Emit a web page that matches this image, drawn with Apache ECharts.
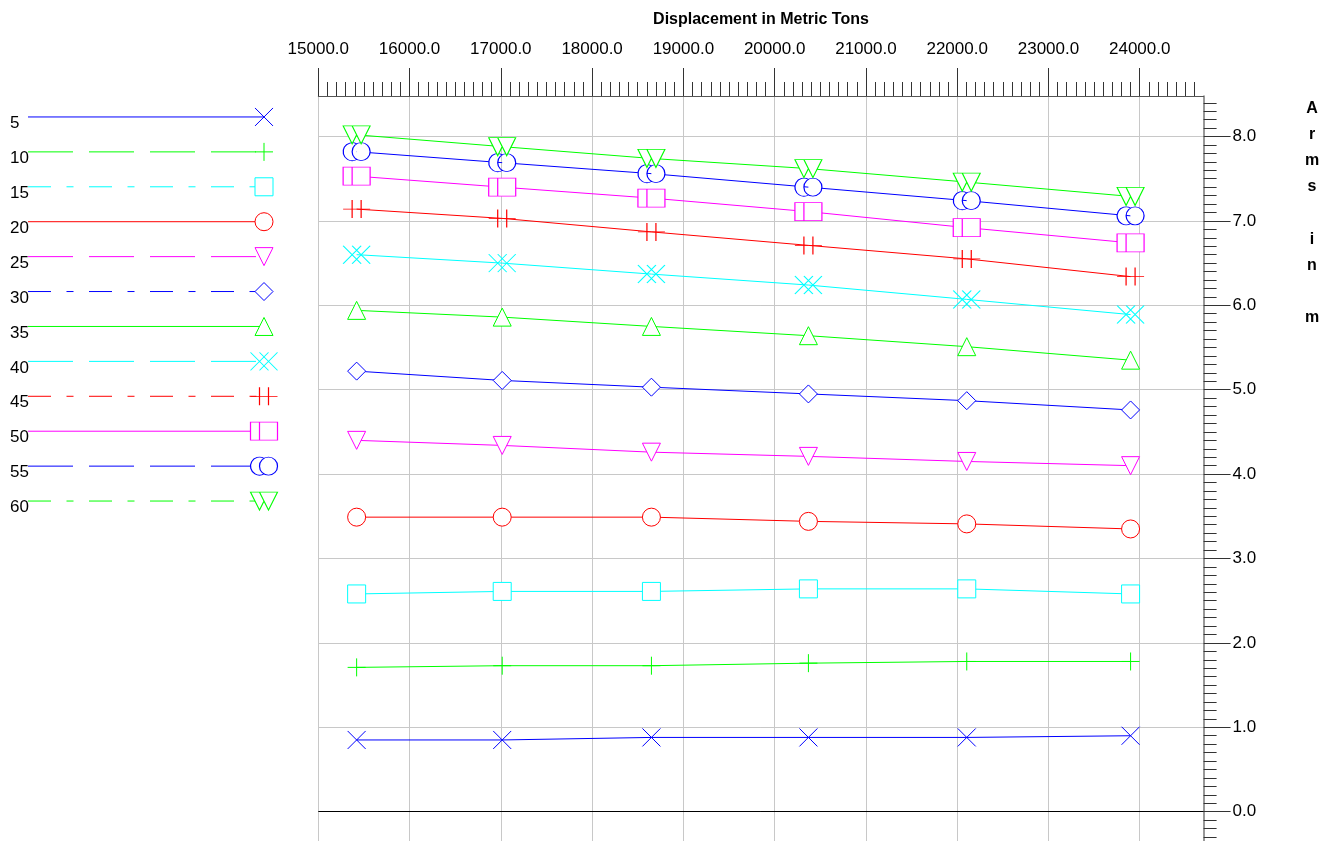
<!DOCTYPE html>
<html>
<head>
<meta charset="utf-8">
<script src="https://cdn.jsdelivr.net/npm/echarts@6/dist/echarts.min.js"></script>
<style>
html,body{margin:0;padding:0;background:#ffffff;}
#chart{width:1334px;height:841px;}
</style>
</head>
<body>
<div id="chart"></div>
<script>
// ---------------- DATA ----------------
const displacement = [15420, 17015, 18650, 20370, 22105, 23900];
const heelLabels = ['5', '10', '15', '20', '25', '30', '35', '40', '45', '50', '55', '60'];
const arms5  = [0.85, 0.85, 0.88, 0.88, 0.88, 0.90];
const arms10 = [1.71, 1.73, 1.73, 1.76, 1.78, 1.78];
const arms15 = [2.58, 2.61, 2.61, 2.64, 2.64, 2.58];
const arms20 = [3.49, 3.49, 3.49, 3.44, 3.41, 3.35];
const arms25 = [4.40, 4.34, 4.26, 4.21, 4.15, 4.10];
const arms30 = [5.22, 5.11, 5.03, 4.95, 4.87, 4.76];
const arms35 = [5.94, 5.86, 5.75, 5.64, 5.51, 5.35];
const arms40 = [6.60, 6.50, 6.37, 6.24, 6.07, 5.89];
const arms45 = [7.14, 7.03, 6.87, 6.71, 6.55, 6.34];
const arms50 = [7.53, 7.40, 7.27, 7.11, 6.92, 6.74];
const arms55 = [7.82, 7.69, 7.56, 7.40, 7.24, 7.06];
const arms60 = [8.02, 7.88, 7.74, 7.62, 7.46, 7.29];
const allArms = [arms5, arms10, arms15, arms20, arms25, arms30, arms35, arms40, arms45, arms50, arms55, arms60];
const xTickValues = [15000, 16000, 17000, 18000, 19000, 20000, 21000, 22000, 23000, 24000];
const yTickValues = [-1, 0, 1, 2, 3, 4, 5, 6, 7, 8];
const yLabelValues = [0, 1, 2, 3, 4, 5, 6, 7, 8];
const xTitle = 'Displacement in Metric Tons';
const yTitle = 'A\nr\nm\ns\n\ni\nn\n\nm';

// ---------------- STYLES ----------------
const FONT = '"Liberation Sans", Arial, sans-serif';
const colors = ['#0000ff', '#00ff00', '#00ffff', '#ff0000', '#ff00ff', '#0000ff',
                '#00ff00', '#00ffff', '#ff0000', '#ff00ff', '#0000ff', '#00ff00'];
const DASH = [45, 16];
const DASHDOT = [23, 15.5, 7, 15.5];
const legendDash = ['solid', DASH, DASHDOT, 'solid', DASH, DASHDOT,
                    'solid', DASH, DASHDOT, 'solid', DASH, DASHDOT];
const P = {
  x: 'path://M0 0 L18 18 M18 0 L0 18',
  plus: 'path://M0 9 L18 9 M9 0 L9 18',
  square: 'path://M0 0 L18 0 L18 18 L0 18 Z',
  circle: 'path://M18 9 A9 9 0 1 1 0 9 A9 9 0 1 1 18 9 Z',
  triDown: 'path://M0 0 L18 0 L9 18 Z',
  diamond: 'path://M9 0 L18 9 L9 18 L0 9 Z',
  triUp: 'path://M9 0 L18 18 L0 18 Z',
  x2: 'path://M0 0 L18 18 M18 0 L0 18 M9 0 L27 18 M27 0 L9 18',
  plus2: 'path://M0 9 L27 9 M9 0 L9 18 M18 0 L18 18',
  square2: 'path://M9 0 L0 0 L0 18 L9 18 M9 0 L27 0 L27 18 L9 18 Z',
  circle2: 'path://M13.5 1.21 A9 9 0 1 0 13.5 16.79 M27 9 A9 9 0 1 1 9 9 A9 9 0 1 1 27 9 Z',
  triDown2: 'path://M9 0 L0 0 L9 18 L13.5 9 M9 0 L27 0 L18 18 Z'
};
const symbols = [P.x, P.plus, P.square, P.circle, P.triDown, P.diamond, P.triUp,
                 P.x2, P.plus2, P.square2, P.circle2, P.triDown2];
const symbolSizes = [[18,18],[18,18],[18,18],[18,18],[18,18],[18,18],[18,18],
                     [27,18],[27,18],[27,18],[27,18],[27,18]];

// ---------------- SERIES ----------------
const series = [];
allArms.forEach((arr, i) => {
  const s = {
    name: heelLabels[i],
    type: 'line',
    xAxisIndex: 0, yAxisIndex: 0,
    data: displacement.map((d, k) => [d, arr[k]]),
    symbol: symbols[i],
    symbolSize: symbolSizes[i],
    showSymbol: true,
    showAllSymbol: true,
    lineStyle: { color: colors[i], width: 1, type: 'solid' },
    itemStyle: { color: '#ffffff', borderColor: colors[i], borderWidth: 1 },
    emphasis: { disabled: true },
    silent: true,
    z: 3
  };
  if (i === 0) {
    s.markLine = {
      silent: true, symbol: 'none', label: { show: false },
      lineStyle: { color: '#000000', width: 1, type: 'solid' },
      data: [{ yAxis: 0 }]
    };
  }
  series.push(s);
});
// legend rows drawn in their own small grid
heelLabels.forEach((lab, i) => {
  series.push({
    name: 'legend-' + lab,
    type: 'line',
    xAxisIndex: 1, yAxisIndex: 1,
    data: [{ value: [0, i], symbol: 'none' }, { value: [1, i] }],
    symbol: symbols[i],
    symbolSize: symbolSizes[i],
    showSymbol: true,
    lineStyle: { color: colors[i], width: 1, type: legendDash[i] },
    itemStyle: { color: '#ffffff', borderColor: colors[i], borderWidth: 1 },
    emphasis: { disabled: true },
    silent: true
  });
});

const chart = echarts.init(document.getElementById('chart'), null, { renderer: 'canvas' });
chart.setOption({
  animation: false,
  backgroundColor: '#ffffff',
  textStyle: { fontFamily: FONT },
  grid: [
    { left: 318.3, top: 96, width: 885.3, height: 800.1, containLabel: false, outerBoundsMode: 'none' },
    { left: 28, top: 99.5, width: 236, height: 419, containLabel: false, outerBoundsMode: 'none' }
  ],
  xAxis: [
    {
      type: 'value', gridIndex: 0, position: 'top',
      min: 15000, max: 24700, interval: 1000,
      axisLine: { show: true, onZero: false, lineStyle: { color: '#555555', width: 1 } },
      axisTick: { show: true, length: 28, customValues: xTickValues, lineStyle: { color: '#333333' } },
      minorTick: { show: true, splitNumber: 10, length: 14, lineStyle: { color: '#333333' } },
      minorSplitLine: { show: false },
      axisLabel: { customValues: xTickValues, formatter: v => v.toFixed(1), fontSize: 17, color: '#000000', margin: 38, fontFamily: FONT },
      splitLine: { show: true, lineStyle: { color: '#c8c8c8', width: 1 } },
      name: xTitle, nameLocation: 'middle', nameGap: 68,
      nameTextStyle: { fontSize: 16, fontWeight: 'bold', color: '#000000', fontFamily: FONT }
    },
    {
      type: 'value', gridIndex: 1, min: 0, max: 1, show: false
    }
  ],
  yAxis: [
    {
      type: 'value', gridIndex: 0, position: 'right',
      min: -1, max: 8.48, interval: 1,
      axisLine: { show: true, onZero: false, lineStyle: { color: '#777777', width: 1.5 } },
      axisTick: { show: true, length: 27, customValues: yTickValues, lineStyle: { color: '#333333' } },
      minorTick: { show: true, splitNumber: 10, length: 13, lineStyle: { color: '#333333' } },
      axisLabel: { customValues: yLabelValues, formatter: v => v.toFixed(1), fontSize: 17, color: '#000000', margin: 29, fontFamily: FONT },
      splitLine: { show: true, lineStyle: { color: '#c8c8c8', width: 1 } }
    },
    {
      type: 'category', gridIndex: 1, inverse: true, data: heelLabels,
      axisLine: { show: false }, axisTick: { show: false }, splitLine: { show: false },
      axisLabel: { show: true, align: 'left', verticalAlign: 'top', lineHeight: 13, margin: 18, fontSize: 17, color: '#000000',
                   fontFamily: FONT }
    }
  ],
  graphic: [
    {
      type: 'text', x: 1312, y: 95, silent: true,
      style: { text: yTitle, textAlign: 'center', textVerticalAlign: 'top', lineHeight: 26.2,
               font: 'bold 16px ' + FONT, fill: '#000000' }
    }
  ],
  series: series
});
</script>
</body>
</html>
